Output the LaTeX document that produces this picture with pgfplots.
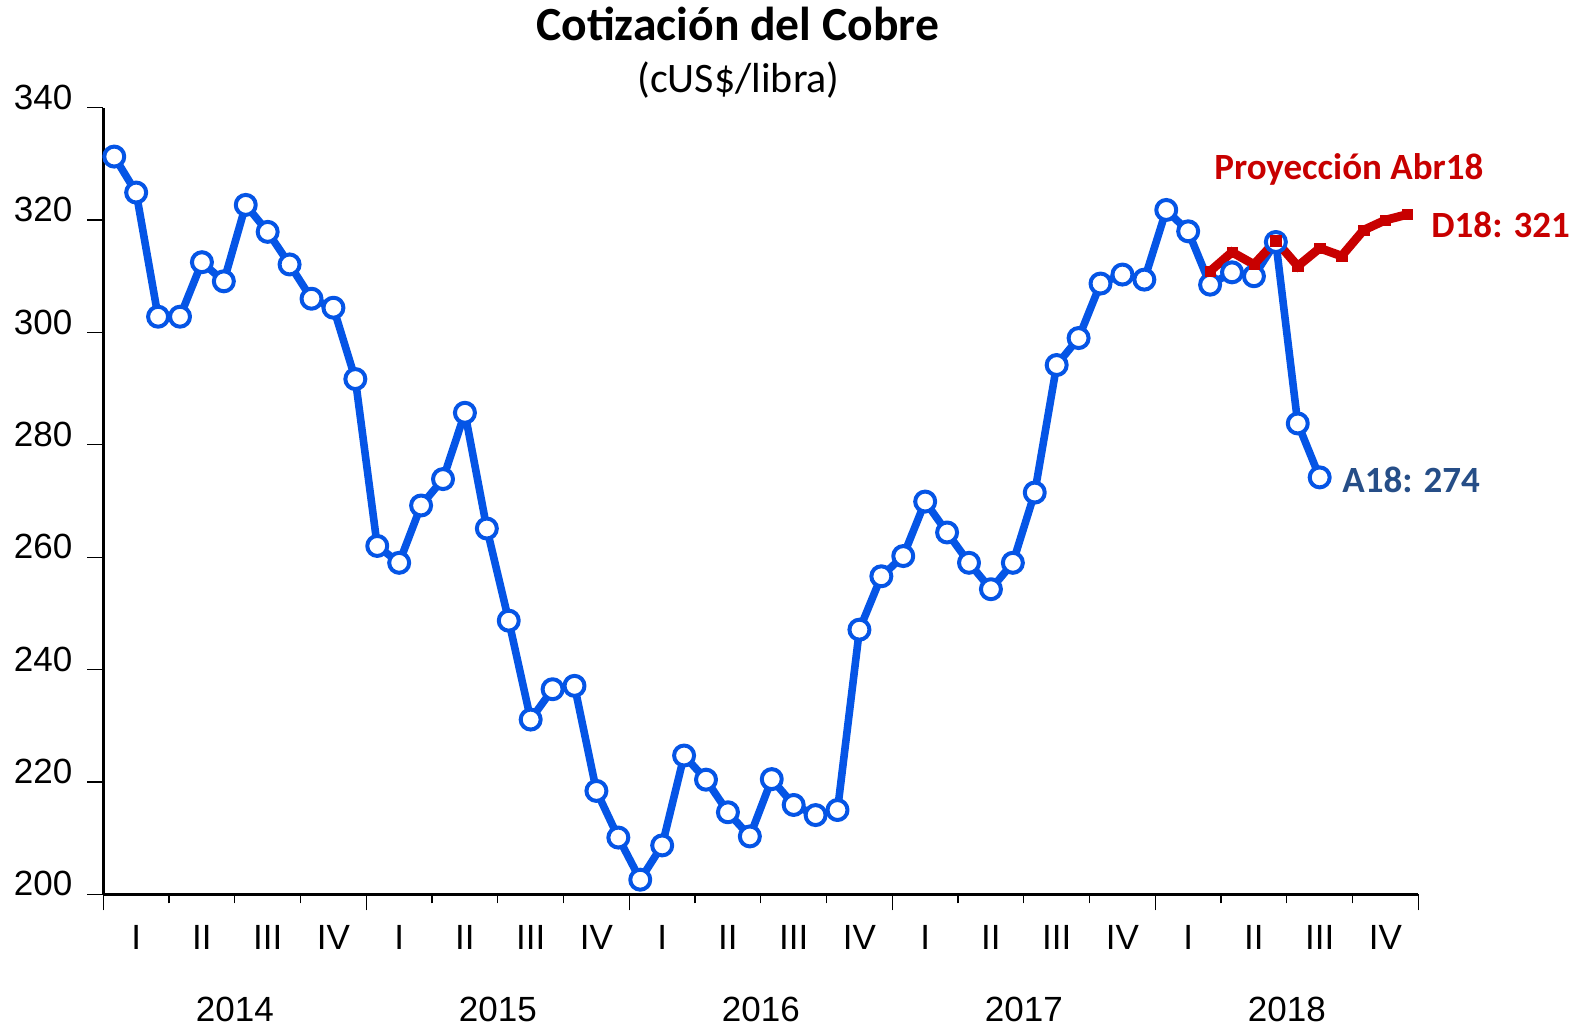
\documentclass[border=0pt]{standalone}
\usepackage{fontspec}
\setmainfont{Liberation Sans}
\newfontfamily\carlito{Carlito}
\usepackage{pgfplots}
\pgfplotsset{compat=1.18}
\definecolor{cuBlue}{RGB}{5,85,230}
\definecolor{cuRed}{RGB}{200,0,0}
\definecolor{cuNavy}{RGB}{38,78,135}
\newcommand\tk{\fontsize{17.5}{20}\selectfont}
\tikzset{
  qlab/.style={font=\tk, anchor=base, yshift=-27.5pt},
  ylab/.style={font=\tk, anchor=base, yshift=-63.8pt},
}
\begin{document}
\begin{tikzpicture}
\begin{axis}[
  at={(51.65pt,66.85pt)}, anchor=south west,
  scale only axis, width=657.5pt, height=393.3pt,
  xmin=0, xmax=60, ymin=200, ymax=340,
  axis lines*=left,
  axis line style={line width=1.4pt},
  clip=false,
  /pgf/number format/assume math mode=true,
  xtick={0,12,...,60}, xticklabels={},
  minor xtick={3,6,9,15,18,21,27,30,33,39,42,45,51,54,57},
  tick align=outside,
  major tick length=8pt, minor tick length=4.5pt,
  every tick/.style={black, line width=0.6pt},
  ytick={200,220,...,340},
  yticklabel style={font=\tk, anchor=base east, xshift=-4pt, yshift=-0.8pt},
]
\addplot[cuBlue, line width=3.8pt, line join=round, mark=*, mark size=5pt,
  mark options={fill=white, draw=cuBlue, line width=2pt}] coordinates {
(0.5,331.3) (1.5,324.9) (2.5,302.8) (3.5,302.8) (4.5,312.5) (5.5,309.1)
(6.5,322.7) (7.5,317.9) (8.5,312.1) (9.5,306.0) (10.5,304.4) (11.5,291.7)
(12.5,262.0) (13.5,259.0) (14.5,269.2) (15.5,273.9) (16.5,285.7) (17.5,265.1)
(18.5,248.7) (19.5,231.1) (20.5,236.5) (21.5,237.1) (22.5,218.4) (23.5,210.1)
(24.5,202.6) (25.5,208.7) (26.5,224.7) (27.5,220.4) (28.5,214.6) (29.5,210.3)
(30.5,220.5) (31.5,215.9) (32.5,214.1) (33.5,215.0) (34.5,247.1) (35.5,256.6)
(36.5,260.2) (37.5,269.9) (38.5,264.4) (39.5,259.0) (40.5,254.3) (41.5,259.0)
(42.5,271.5) (43.5,294.2) (44.5,299.0) (45.5,308.7) (46.5,310.3) (47.5,309.4)
(48.5,321.8) (49.5,318.0) (50.5,308.5) (51.5,310.7) (52.5,310.0) (53.5,316.1)
(54.5,283.8) (55.5,274.2)
};
\addplot[cuRed, line width=4.4pt, mark=square*, mark size=2.6pt,
  mark options={solid, line width=0.2pt}] coordinates {
(50.5,310.9) (51.5,314.3) (52.5,312.1) (53.5,316.3) (54.5,311.8)
(55.5,315.0) (56.5,313.6) (57.5,318.2) (58.5,320.0) (59.5,321.0)
};
\node[qlab] at (axis cs:1.5,200) {I};
\node[qlab] at (axis cs:4.5,200) {II};
\node[qlab] at (axis cs:7.5,200) {III};
\node[qlab] at (axis cs:10.5,200) {IV};
\node[qlab] at (axis cs:13.5,200) {I};
\node[qlab] at (axis cs:16.5,200) {II};
\node[qlab] at (axis cs:19.5,200) {III};
\node[qlab] at (axis cs:22.5,200) {IV};
\node[qlab] at (axis cs:25.5,200) {I};
\node[qlab] at (axis cs:28.5,200) {II};
\node[qlab] at (axis cs:31.5,200) {III};
\node[qlab] at (axis cs:34.5,200) {IV};
\node[qlab] at (axis cs:37.5,200) {I};
\node[qlab] at (axis cs:40.5,200) {II};
\node[qlab] at (axis cs:43.5,200) {III};
\node[qlab] at (axis cs:46.5,200) {IV};
\node[qlab] at (axis cs:49.5,200) {I};
\node[qlab] at (axis cs:52.5,200) {II};
\node[qlab] at (axis cs:55.5,200) {III};
\node[qlab] at (axis cs:58.5,200) {IV};
\node[ylab] at (axis cs:6,200) {2014};
\node[ylab] at (axis cs:18,200) {2015};
\node[ylab] at (axis cs:30,200) {2016};
\node[ylab] at (axis cs:42,200) {2017};
\node[ylab] at (axis cs:54,200) {2018};
\end{axis}
\node[anchor=base, font=\carlito\bfseries\fontsize{23.8}{26}\selectfont] at (368.8pt,493.8pt) {Cotización del Cobre};
\node[anchor=base, font=\carlito\fontsize{21}{24}\selectfont] at (369.3pt,467.5pt) {(cUS\$/libra)};
\node[anchor=base west, inner sep=0pt, text=cuRed, font=\carlito\bfseries\fontsize{18.5}{21}\selectfont] at (607pt,424pt) {Proyección Abr18};
\node[anchor=base west, inner sep=0pt, text=cuRed, font=\carlito\bfseries\fontsize{18.5}{21}\selectfont] at (715.5pt,395pt) {D18: 321};
\node[anchor=base west, inner sep=0pt, text=cuNavy, font=\carlito\bfseries\fontsize{18.5}{21}\selectfont] at (671pt,267.5pt) {A18: 274};
\pgfresetboundingbox
\useasboundingbox (0,0) rectangle (791pt,514pt);
\end{tikzpicture}
\end{document}
